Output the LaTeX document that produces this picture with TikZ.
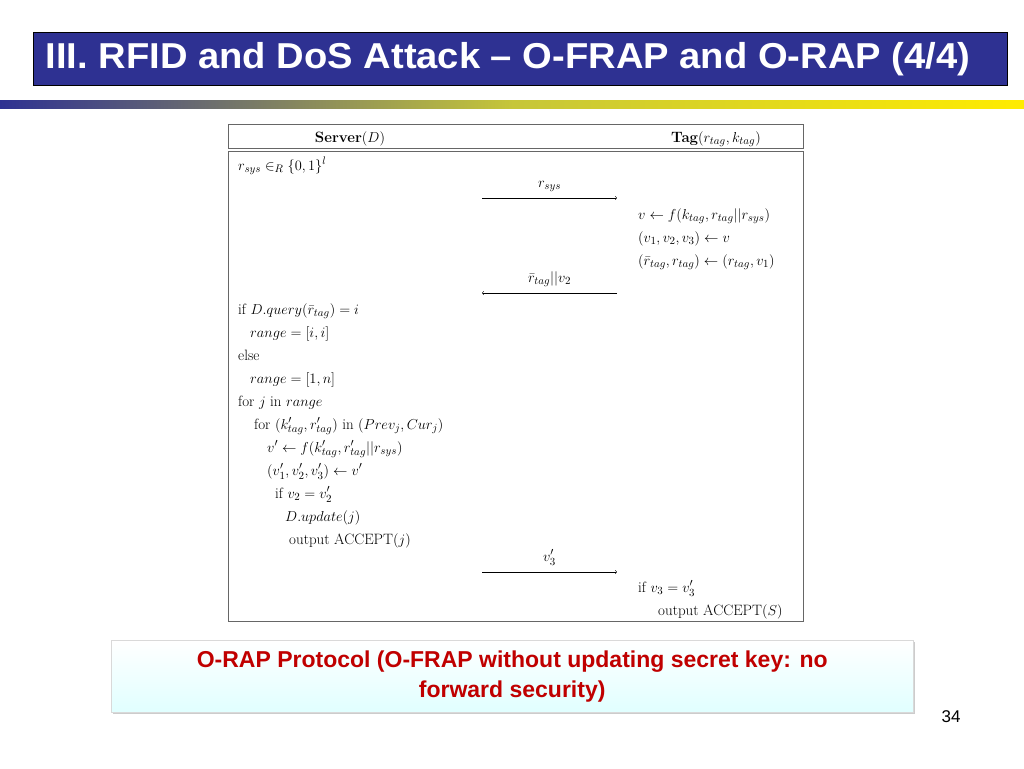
\documentclass[tikz,border=0pt]{standalone}
\usepackage{amsmath,amssymb}
\usepackage{fontspec}
\newfontfamily\arialfont{Liberation Sans}
\usetikzlibrary{positioning,shadows}
\definecolor{titleblue}{RGB}{46,49,146}
\definecolor{darkred}{RGB}{192,0,0}
\tikzset{
  ln/.style={anchor=base west,inner sep=0pt,font=\fontsize{15}{17}\selectfont},
  msg/.style={->,>=to,line width=0.5pt},
}
\begin{document}
\begin{tikzpicture}[x=1pt,y=-1pt]
    \useasboundingbox (0,0) rectangle (1024,768);
    % title bar
    \node (title) [draw=black,fill=titleblue,minimum width=974pt,minimum height=53pt,
      anchor=north west,inner sep=0pt] at (33,32) {};
    \node (ttext) [anchor=west,text=white,font=\arialfont\bfseries\fontsize{36}{40}\selectfont,
      xscale=1.06,yscale=1.0] at (42,59) {III. RFID and DoS Attack – O-FRAP and O-RAP (4/4)};
    \shade[left color=titleblue,right color=yellow!85!orange,middle color=yellow!55!gray]
      (0,100) rectangle (1024,108);
    % protocol frame
    \node (head) [draw=black!60,minimum width=575pt,minimum height=24pt,anchor=north west] at (228,124) {};
    \node (body) [draw=black!60,minimum width=575pt,minimum height=470pt,anchor=north west] at (228,151) {};
    \node (srv) [anchor=base,font=\fontsize{15}{17}\selectfont] at (350,142) {\textbf{Server}$(D)$};
    \node (tag) [anchor=base,font=\fontsize{15}{17}\selectfont] at (716,142) {\textbf{Tag}$(r_{tag},k_{tag})$};
    % server side
    \node (s1) [ln] at (238,170) {$r_{sys}\in_R\{0,1\}^l$};
    \node (s2) [ln] at (238,314) {if $D.query(\bar r_{tag})=i$};
    \node (s3) [ln] at (250,337) {$range=[i,i]$};
    \node (s4) [ln] at (238,360) {else};
    \node (s5) [ln] at (250,383) {$range=[1,n]$};
    \node (s6) [ln] at (238,406) {for $j$ in $range$};
    \node (s7) [ln] at (254,429) {for $(k'_{tag},r'_{tag})$ in $(Prev_j,Cur_j)$};
    \node (s8) [ln] at (267,452) {$v'\leftarrow f(k'_{tag},r'_{tag}||r_{sys})$};
    \node (s9) [ln] at (267,475) {$(v'_1,v'_2,v'_3)\leftarrow v'$};
    \node (s10) [ln] at (275,498) {if $v_2=v'_2$};
    \node (s11) [ln] at (285,521) {$D.update(j)$};
    \node (s12) [ln] at (289,544) {output ACCEPT$(j)$};
    % tag side
    \node (t1) [ln] at (638,219) {$v\leftarrow f(k_{tag},r_{tag}||r_{sys})$};
    \node (t2) [ln] at (638,242) {$(v_1,v_2,v_3)\leftarrow v$};
    \node (t3) [ln] at (638,265) {$(\bar r_{tag},r_{tag})\leftarrow(r_{tag},v_1)$};
    \node (t4) [ln] at (638,592) {if $v_3=v'_3$};
    \node (t5) [ln] at (658,615) {output ACCEPT$(S)$};
    % messages
    \coordinate (a1l) at (482,198); \coordinate (a1r) at (617,198);
    \coordinate (a2l) at (482,293); \coordinate (a2r) at (617,293);
    \coordinate (a3l) at (482,572); \coordinate (a3r) at (617,572);
    \draw[msg] (a1l) -- node[above=3pt,font=\fontsize{15}{17}\selectfont] {$r_{sys}$} (a1r);
    \draw[msg] (a2r) -- node[above=3pt,font=\fontsize{15}{17}\selectfont] {$\bar r_{tag}||v_2$} (a2l);
    \draw[msg] (a3l) -- node[above=3pt,font=\fontsize{15}{17}\selectfont] {$v'_3$} (a3r);
    % caption box
    \node (cap) [anchor=north west,minimum width=802pt,minimum height=72pt,
      top color=white,bottom color=cyan!12,draw=black!15,
      drop shadow={shadow xshift=2pt,shadow yshift=-2pt,opacity=0.4},
      align=center,text=darkred,font=\arialfont\bfseries\fontsize{23}{30}\selectfont] at (111,640)
      {O-RAP Protocol (O-FRAP without updating secret key: no\\forward security)};
    \node (page) [font=\arialfont\fontsize{17}{19}\selectfont] at (951,717) {34};
\end{tikzpicture}
\end{document}
